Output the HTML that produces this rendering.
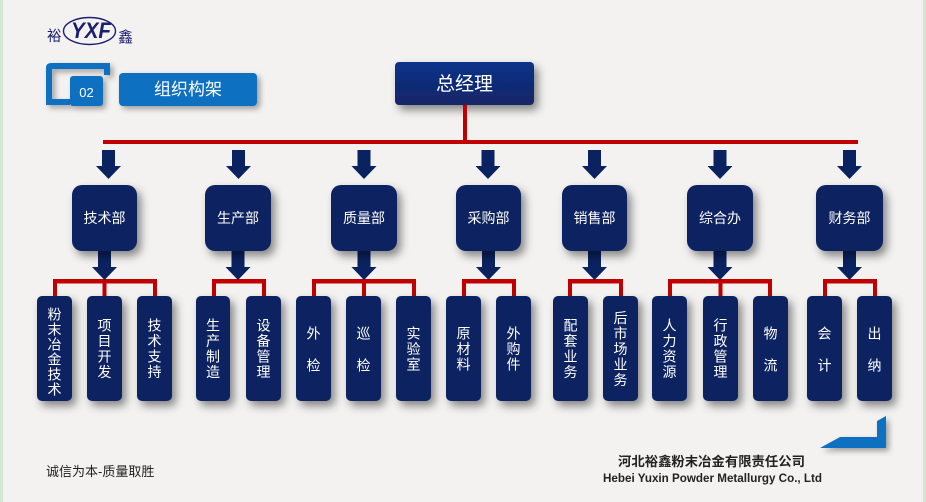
<!DOCTYPE html>
<html><head><meta charset="utf-8"><style>
html,body{margin:0;padding:0;background:#f3f2f1;}
svg{display:block;}
text{font-family:"Liberation Sans","Noto Sans CJK SC",sans-serif;}
</style></head><body>
<svg width="926" height="502" viewBox="0 0 926 502" xmlns="http://www.w3.org/2000/svg">
<defs>
<filter id="sh" x="-30%" y="-30%" width="170%" height="170%">
<feDropShadow dx="4" dy="5" stdDeviation="4.5" flood-color="#000" flood-opacity="0.45"/>
</filter>
<filter id="sh2" x="-30%" y="-30%" width="170%" height="170%">
<feDropShadow dx="3" dy="3" stdDeviation="3" flood-color="#000" flood-opacity="0.35"/>
</filter>
<linearGradient id="gm" x1="0" y1="0" x2="0" y2="1">
<stop offset="0" stop-color="#0c3289"/><stop offset="1" stop-color="#142666"/>
</linearGradient>
</defs>
<rect width="926" height="502" fill="#f3f2f1"/>
<rect x="0" y="0" width="3" height="502" fill="#d3e7d2"/>
<rect x="923" y="0" width="3" height="502" fill="#d3e7d2"/>

<!-- logo -->
<text x="47" y="41" font-size="14.5" fill="#1b1f70">裕</text>
<ellipse cx="89.5" cy="31" rx="26" ry="13.5" fill="none" stroke="#1b1f70" stroke-width="1.4"/>
<text x="71" y="38" font-size="22" font-weight="bold" font-style="italic" fill="#1b1f70" textLength="40" lengthAdjust="spacingAndGlyphs">YXF</text>
<text x="118" y="42" font-size="15" fill="#1b1f70">鑫</text>

<!-- section marker -->
<path d="M46,105 V68 Q46,63 51,63 H110 V75 H104 V69 H52 V99 H70 V105 Z" fill="#0b6fc1" filter="url(#sh2)"/>
<rect x="70" y="76" width="33" height="30" rx="3" fill="#0b6fc1" filter="url(#sh2)"/>
<text x="86.5" y="97" font-size="13" fill="#fff" text-anchor="middle">02</text>
<rect x="119" y="73" width="138" height="33" rx="4" fill="#0b6fc1" filter="url(#sh2)"/>
<text x="188" y="95" font-size="17" fill="#fff" text-anchor="middle">组织构架</text>

<!-- general manager -->
<rect x="395" y="62" width="139" height="43" rx="4" fill="url(#gm)" filter="url(#sh)"/>
<text x="464.5" y="90" font-size="19" fill="#fff" text-anchor="middle">总经理</text>
<rect x="463" y="105" width="4" height="37" fill="#c00000"/>
<rect x="103" y="140" width="755" height="4" fill="#c00000"/>

<g fill="#0b2261">
<path d="M102,150 H115 V166 H121 L108.5,179 L96,166 H102 Z"/>
<path d="M232,150 H245 V166 H251 L238.5,179 L226,166 H232 Z"/>
<path d="M357.5,150 H370.5 V166 H376.5 L364,179 L351.5,166 H357.5 Z"/>
<path d="M481.5,150 H494.5 V166 H500.5 L488,179 L475.5,166 H481.5 Z"/>
<path d="M588,150 H601 V166 H607 L594.5,179 L582,166 H588 Z"/>
<path d="M713.5,150 H726.5 V166 H732.5 L720,179 L707.5,166 H713.5 Z"/>
<path d="M843,150 H856 V166 H862 L849.5,179 L837,166 H843 Z"/>
</g>

<g fill="#c00000">
<rect x="53" y="279" width="104" height="4.5"/><rect x="53" y="279" width="4" height="18"/><rect x="102.5" y="279" width="4" height="18"/><rect x="153" y="279" width="4" height="18"/>
<rect x="212" y="279" width="54" height="4.5"/><rect x="212" y="279" width="4" height="18"/><rect x="262" y="279" width="4" height="18"/>
<rect x="312" y="279" width="104" height="4.5"/><rect x="312" y="279" width="4" height="18"/><rect x="362" y="279" width="4" height="18"/><rect x="412" y="279" width="4" height="18"/>
<rect x="462" y="279" width="54" height="4.5"/><rect x="462" y="279" width="4" height="18"/><rect x="512" y="279" width="4" height="18"/>
<rect x="568" y="279" width="55" height="4.5"/><rect x="568" y="279" width="4" height="18"/><rect x="619" y="279" width="4" height="18"/>
<rect x="668" y="279" width="104" height="4.5"/><rect x="668" y="279" width="4" height="18"/><rect x="718.5" y="279" width="4" height="18"/><rect x="768" y="279" width="4" height="18"/>
<rect x="823" y="279" width="54" height="4.5"/><rect x="823" y="279" width="4" height="18"/><rect x="873" y="279" width="4" height="18"/>
</g>

<g fill="#0b2261">
<path d="M98,250 H111 V267 H117 L104.5,280 L92,267 H98 Z"/>
<path d="M231.5,250 H244.5 V267 H250.5 L238,280 L225.5,267 H231.5 Z"/>
<path d="M357.5,250 H370.5 V267 H376.5 L364,280 L351.5,267 H357.5 Z"/>
<path d="M482,250 H495 V267 H501 L488.5,280 L476,267 H482 Z"/>
<path d="M588,250 H601 V267 H607 L594.5,280 L582,267 H588 Z"/>
<path d="M713.5,250 H726.5 V267 H732.5 L720,280 L707.5,267 H713.5 Z"/>
<path d="M843,250 H856 V267 H862 L849.5,280 L837,267 H843 Z"/>
</g>

<g fill="#0b2261" filter="url(#sh)">
<rect x="72" y="185" width="65" height="66" rx="10"/>
<rect x="205" y="185" width="66" height="66" rx="10"/>
<rect x="331" y="185" width="66" height="66" rx="10"/>
<rect x="456" y="185" width="65" height="66" rx="10"/>
<rect x="562" y="185" width="65" height="66" rx="10"/>
<rect x="687" y="185" width="66" height="66" rx="10"/>
<rect x="816" y="185" width="67" height="66" rx="10"/>
</g>
<g font-size="14" fill="#fff" text-anchor="middle">
<text x="104.5" y="223">技术部</text>
<text x="238" y="223">生产部</text>
<text x="364" y="223">质量部</text>
<text x="488.5" y="223">采购部</text>
<text x="594.5" y="223">销售部</text>
<text x="720" y="223">综合办</text>
<text x="849.5" y="223">财务部</text>
</g>

<g fill="#0b2261" filter="url(#sh)">
<rect x="37" y="296" width="35" height="105" rx="5"/>
<rect x="87" y="296" width="35" height="105" rx="5"/>
<rect x="137" y="296" width="35" height="105" rx="5"/>
<rect x="196" y="296" width="34" height="105" rx="5"/>
<rect x="246" y="296" width="35" height="105" rx="5"/>
<rect x="296" y="296" width="35" height="105" rx="5"/>
<rect x="346" y="296" width="35" height="105" rx="5"/>
<rect x="396" y="296" width="35" height="105" rx="5"/>
<rect x="446" y="296" width="35" height="105" rx="5"/>
<rect x="496" y="296" width="35" height="105" rx="5"/>
<rect x="553" y="296" width="35" height="105" rx="5"/>
<rect x="603" y="296" width="35" height="105" rx="5"/>
<rect x="652" y="296" width="35" height="105" rx="5"/>
<rect x="703" y="296" width="35" height="105" rx="5"/>
<rect x="753" y="296" width="35" height="105" rx="5"/>
<rect x="807" y="296" width="35" height="105" rx="5"/>
<rect x="857" y="296" width="35" height="105" rx="5"/>
</g>
<g font-size="14" fill="#fff" text-anchor="middle">
<text x="54.5" y="319.5"><tspan x="54.5">粉</tspan><tspan x="54.5" dy="15">末</tspan><tspan x="54.5" dy="15">冶</tspan><tspan x="54.5" dy="15">金</tspan><tspan x="54.5" dy="15">技</tspan><tspan x="54.5" dy="15">术</tspan></text>
<text y="330.5"><tspan x="104.5">项</tspan><tspan x="104.5" dy="15.5">目</tspan><tspan x="104.5" dy="15.5">开</tspan><tspan x="104.5" dy="15.5">发</tspan></text>
<text y="330.5"><tspan x="154.5">技</tspan><tspan x="154.5" dy="15.5">术</tspan><tspan x="154.5" dy="15.5">支</tspan><tspan x="154.5" dy="15.5">持</tspan></text>
<text y="330.5"><tspan x="213">生</tspan><tspan x="213" dy="15.5">产</tspan><tspan x="213" dy="15.5">制</tspan><tspan x="213" dy="15.5">造</tspan></text>
<text y="330.5"><tspan x="263.5">设</tspan><tspan x="263.5" dy="15.5">备</tspan><tspan x="263.5" dy="15.5">管</tspan><tspan x="263.5" dy="15.5">理</tspan></text>
<text y="338.5"><tspan x="313.5">外</tspan><tspan x="313.5" dy="32">检</tspan></text>
<text y="338.5"><tspan x="363.5">巡</tspan><tspan x="363.5" dy="32">检</tspan></text>
<text y="338.5"><tspan x="413.5">实</tspan><tspan x="413.5" dy="15.5">验</tspan><tspan x="413.5" dy="15.5">室</tspan></text>
<text y="338.5"><tspan x="463.5">原</tspan><tspan x="463.5" dy="15.5">材</tspan><tspan x="463.5" dy="15.5">料</tspan></text>
<text y="338.5"><tspan x="513.5">外</tspan><tspan x="513.5" dy="15.5">购</tspan><tspan x="513.5" dy="15.5">件</tspan></text>
<text y="330.5"><tspan x="570.5">配</tspan><tspan x="570.5" dy="15.5">套</tspan><tspan x="570.5" dy="15.5">业</tspan><tspan x="570.5" dy="15.5">务</tspan></text>
<text y="323"><tspan x="620.5">后</tspan><tspan x="620.5" dy="15.5">市</tspan><tspan x="620.5" dy="15.5">场</tspan><tspan x="620.5" dy="15.5">业</tspan><tspan x="620.5" dy="15.5">务</tspan></text>
<text y="330.5"><tspan x="669.5">人</tspan><tspan x="669.5" dy="15.5">力</tspan><tspan x="669.5" dy="15.5">资</tspan><tspan x="669.5" dy="15.5">源</tspan></text>
<text y="330.5"><tspan x="720.5">行</tspan><tspan x="720.5" dy="15.5">政</tspan><tspan x="720.5" dy="15.5">管</tspan><tspan x="720.5" dy="15.5">理</tspan></text>
<text y="338.5"><tspan x="770.5">物</tspan><tspan x="770.5" dy="32">流</tspan></text>
<text y="338.5"><tspan x="824.5">会</tspan><tspan x="824.5" dy="32">计</tspan></text>
<text y="338.5"><tspan x="874.5">出</tspan><tspan x="874.5" dy="32">纳</tspan></text>
</g>

<text x="46" y="476" font-size="13" fill="#222">诚信为本-质量取胜</text>
<path d="M820,448 L840,437 H877 V421 L886,416 V448 Z" fill="#0b6fc1" filter="url(#sh2)"/>
<text x="618" y="466" font-size="13" font-weight="bold" fill="#222" textLength="187" lengthAdjust="spacingAndGlyphs">河北裕鑫粉末冶金有限责任公司</text>
<text x="603" y="482" font-size="12" font-weight="bold" fill="#222" textLength="219" lengthAdjust="spacingAndGlyphs">Hebei Yuxin Powder Metallurgy Co., Ltd</text>
</svg>
</body></html>
